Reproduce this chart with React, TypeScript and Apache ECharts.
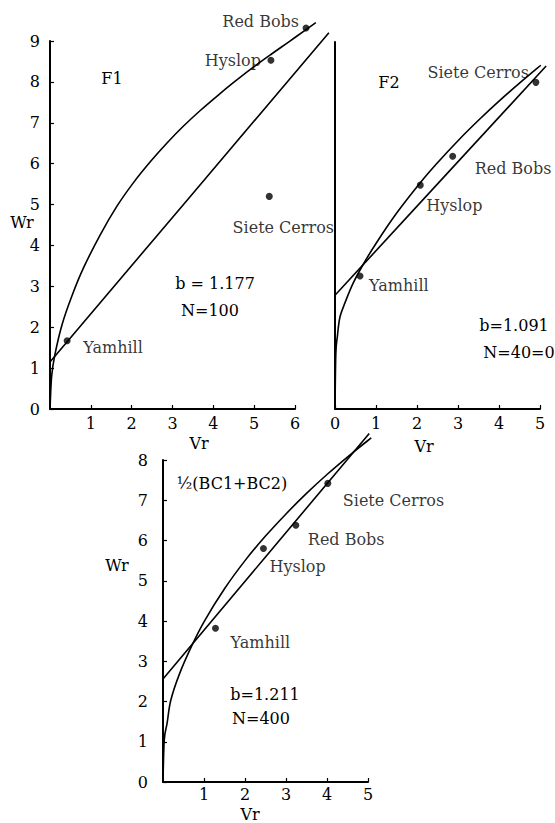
import React, { useEffect, useRef } from "react";
import * as echarts from "echarts";

const FONT = "DejaVu Serif";
const INK = "#000000";

// ---------- Panel F1 ----------
const f1Names = ["Yamhill", "Hyslop", "Red Bobs", "Siete Cerros"];
const f1Vr = [0.42, 5.41, 6.27, 5.37];
const f1Wr = [1.67, 8.53, 9.32, 5.2];
const f1LineVr = [0, 6.83];
const f1LineWr = [1.15, 9.2];
const f1CurveVr = [0, 0.04, 0.12, 0.3, 0.55, 0.82, 1.23, 1.64, 2.04, 2.45, 2.86, 3.27, 3.68, 4.1, 4.49, 4.9, 5.41, 5.85, 6.27, 6.51];
const f1CurveWr = [0, 0.8, 1.33, 2.08, 2.8, 3.45, 4.26, 4.96, 5.53, 6.04, 6.5, 6.92, 7.3, 7.66, 7.98, 8.3, 8.67, 8.98, 9.28, 9.45];

// ---------- Panel F2 ----------
const f2Names = ["Yamhill", "Hyslop", "Red Bobs", "Siete Cerros"];
const f2Vr = [0.61, 2.08, 2.87, 4.9];
const f2Wr = [3.26, 5.49, 6.2, 8.01];
const f2LineVr = [0, 5.15];
const f2LineWr = [2.79, 8.41];
const f2CurveVr = [0, 0.02, 0.06, 0.12, 0.25, 0.44, 0.69, 1.0, 1.5, 2.08, 2.5, 3.0, 3.5, 4.0, 4.5, 5.02];
const f2CurveWr = [0, 1.35, 1.8, 2.25, 2.62, 3.08, 3.55, 4.06, 4.8, 5.55, 6.04, 6.58, 7.08, 7.55, 7.99, 8.43];

// ---------- Panel ½(BC1+BC2) ----------
const bcNames = ["Yamhill", "Hyslop", "Red Bobs", "Siete Cerros"];
const bcVr = [1.28, 2.45, 3.24, 4.02];
const bcWr = [3.82, 5.8, 6.38, 7.42];
const bcLineVr = [0, 5.03];
const bcLineWr = [2.56, 8.66];
const bcCurveVr = [0, 0.03, 0.1, 0.19, 0.4, 0.7, 1.0, 1.5, 2.0, 2.5, 3.0, 3.5, 4.0, 4.6, 5.08];
const bcCurveWr = [0, 1.04, 1.46, 2.03, 2.68, 3.38, 3.98, 4.8, 5.5, 6.11, 6.66, 7.17, 7.64, 8.16, 8.55];

// axis ranges
const f1XMax = 6;
const f1YMax = 9;
const f2XMax = 5;
const f2YMax = 9;
const bcXMax = 5;
const bcYMax = 8;

// annotation texts
const annotations = [
  { text: "F1", x: 112, y: 78 },
  { text: "b = 1.177", x: 215, y: 283 },
  { text: "N=100", x: 210, y: 310 },
  { text: "F2", x: 389, y: 82 },
  { text: "b=1.091", x: 514, y: 325 },
  { text: "N=40=0", x: 519, y: 352 },
  { text: "½(BC1+BC2)", x: 232, y: 483 },
  { text: "b=1.211", x: 265, y: 694 },
  { text: "N=400", x: 261, y: 718 },
  { text: "Wr", x: 22, y: 222 },
  { text: "Vr", x: 199, y: 443 },
  { text: "Vr", x: 424, y: 446 },
  { text: "Wr", x: 117, y: 565 },
  { text: "Vr", x: 250, y: 814 },
];

// label placement styles for the point names
const f1LabelStyle = [
  { align: "left", offset: [16, 7] },
  { align: "right", offset: [-10, 0] },
  { align: "right", offset: [-7, -6] },
  { align: "center", offset: [14, 31] },
];
const f2LabelStyle = [
  { align: "left", offset: [9, 9] },
  { align: "left", offset: [6, 20] },
  { align: "left", offset: [22, 12] },
  { align: "right", offset: [-7, -10] },
];
const bcLabelStyle = [
  { align: "left", offset: [15, 14] },
  { align: "left", offset: [6, 18] },
  { align: "left", offset: [12, 14] },
  { align: "left", offset: [15, 17] },
];

const zip = (a: number[], b: number[]) => a.map((v, i) => [v, b[i]]);

function pointsSeries(idx: number, names: string[], xs: number[], ys: number[], styles: any[]) {
  return {
    type: "scatter",
    xAxisIndex: idx,
    yAxisIndex: idx,
    symbolSize: 7,
    itemStyle: { color: INK },
    clip: false,
    data: names.map((n, i) => ({
      name: n,
      value: [xs[i], ys[i]],
      label: {
        show: true,
        position: "inside",
        align: styles[i].align,
        verticalAlign: "middle",
        offset: styles[i].offset,
        formatter: n,
        color: INK,
        fontFamily: FONT,
        fontSize: 16,
      },
    })),
  };
}

// Catmull-Rom spline through the pixel points (rendering only)
function splinePath(pts: number[][]) {
  let d = `M${pts[0][0]},${pts[0][1]}`;
  for (let i = 0; i < pts.length - 1; i++) {
    const p0 = pts[i - 1] || pts[i];
    const p1 = pts[i];
    const p2 = pts[i + 1];
    const p3 = pts[i + 2] || p2;
    const c1x = p1[0] + (p2[0] - p0[0]) / 6;
    const c1y = p1[1] + (p2[1] - p0[1]) / 6;
    const c2x = p2[0] - (p3[0] - p1[0]) / 6;
    const c2y = p2[1] - (p3[1] - p1[1]) / 6;
    d += ` C${c1x},${c1y} ${c2x},${c2y} ${p2[0]},${p2[1]}`;
  }
  return d;
}

// drawn through the axes with api.coord; not clipped to the grid
function pathSeries(idx: number, xs: number[], ys: number[]) {
  const pts = zip(xs, ys);
  return {
    type: "custom",
    xAxisIndex: idx,
    yAxisIndex: idx,
    clip: false,
    silent: true,
    encode: { x: 0, y: 1 },
    data: pts,
    renderItem: (params: any, api: any) => {
      if (params.dataIndex !== 0) return null;
      const points = pts.map((p) => api.coord(p));
      return {
        type: "path",
        shape: { pathData: splinePath(points) },
        style: { stroke: INK, lineWidth: 1.6, fill: "none" },
      };
    },
  };
}

const axisBase = {
  type: "value",
  axisLine: { show: true, lineStyle: { color: INK, width: 2 } },
  axisTick: { show: true, inside: true, length: 4, lineStyle: { color: INK, width: 1.2 } },
  splitLine: { show: false },
  axisLabel: { color: INK, fontFamily: FONT, fontSize: 16 },
};

export default function App() {
  const ref = useRef<HTMLDivElement>(null);
  useEffect(() => {
    if (!ref.current) return;
    const chart = echarts.init(ref.current, undefined, { renderer: "svg" });
    const option: any = {
      animation: false,
      backgroundColor: "#ffffff",
      grid: [
        { left: 50, top: 41, width: 245, height: 368 },
        { left: 335, top: 42, width: 205, height: 367 },
        { left: 163, top: 460, width: 205, height: 322 },
      ],
      xAxis: [
        { ...axisBase, gridIndex: 0, min: 0, max: f1XMax, interval: 1, axisLabel: { ...axisBase.axisLabel, margin: 6, showMinLabel: false } },
        { ...axisBase, gridIndex: 1, min: 0, max: f2XMax, interval: 1, axisLabel: { ...axisBase.axisLabel, margin: 6 } },
        { ...axisBase, gridIndex: 2, min: 0, max: bcXMax, interval: 1, axisLabel: { ...axisBase.axisLabel, margin: 4, showMinLabel: false } },
      ],
      yAxis: [
        { ...axisBase, gridIndex: 0, min: 0, max: f1YMax, interval: 1, axisLabel: { ...axisBase.axisLabel, margin: 10 } },
        { ...axisBase, gridIndex: 1, min: 0, max: f2YMax, interval: 1, axisTick: { show: false }, axisLabel: { show: false } },
        { ...axisBase, gridIndex: 2, min: 0, max: bcYMax, interval: 1, axisLabel: { ...axisBase.axisLabel, margin: 15 } },
      ],
      series: [
        pathSeries(0, f1LineVr, f1LineWr),
        pathSeries(0, f1CurveVr, f1CurveWr),
        pointsSeries(0, f1Names, f1Vr, f1Wr, f1LabelStyle),
        pathSeries(1, f2LineVr, f2LineWr),
        pathSeries(1, f2CurveVr, f2CurveWr),
        pointsSeries(1, f2Names, f2Vr, f2Wr, f2LabelStyle),
        pathSeries(2, bcLineVr, bcLineWr),
        pathSeries(2, bcCurveVr, bcCurveWr),
        pointsSeries(2, bcNames, bcVr, bcWr, bcLabelStyle),
      ],
      graphic: annotations.map((a) => ({
        type: "text",
        x: a.x,
        y: a.y,
        style: {
          text: a.text,
          fill: INK,
          fontFamily: FONT,
          fontSize: 16,
          align: "center",
          verticalAlign: "middle",
        },
      })),
    };
    chart.setOption(option);
    return () => chart.dispose();
  }, []);
  return (
    <div
      ref={ref}
      style={{ position: "absolute", left: 0, top: 0, width: 555, height: 823, background: "#fff" }}
    />
  );
}
